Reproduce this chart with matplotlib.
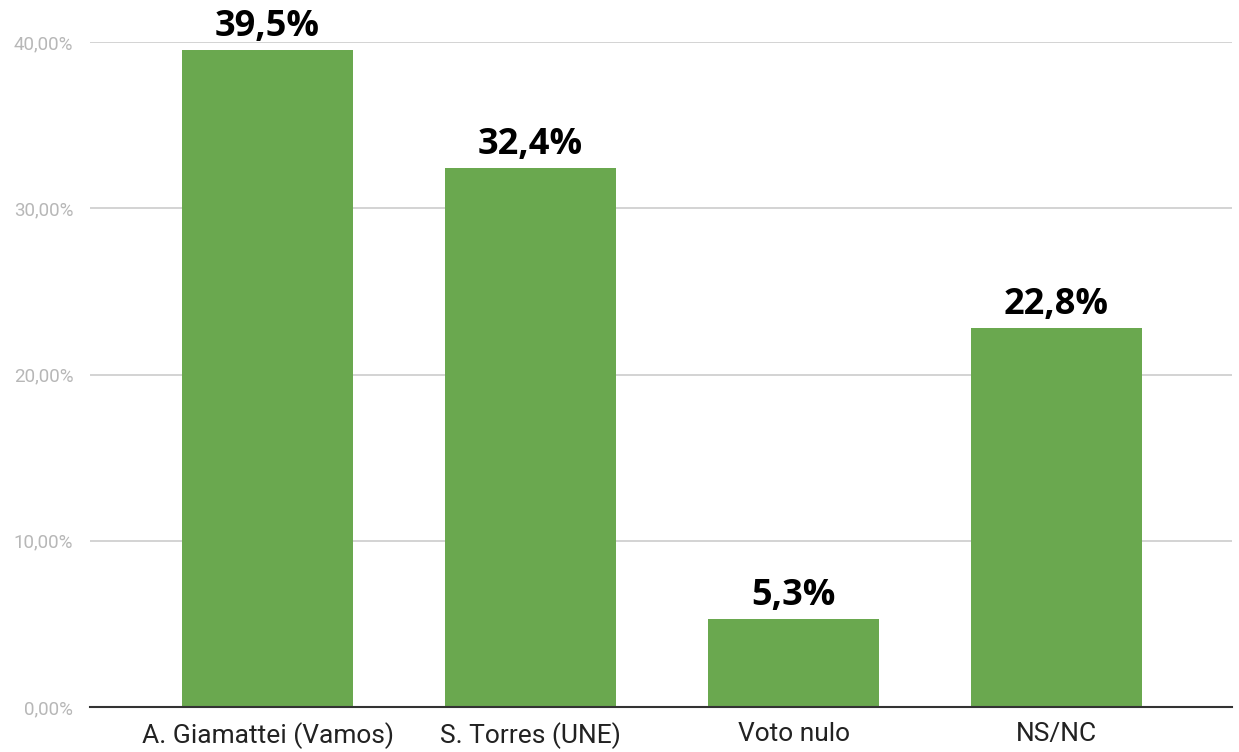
import numpy as np
import matplotlib.pyplot as plt
from matplotlib.ticker import FuncFormatter

categories = ['A. Giamattei (Vamos)', 'S. Torres (UNE)', 'Voto nulo', 'NS/NC']
values = [39.5, 32.4, 5.3, 22.8]
value_labels = ['39,5%', '32,4%', '5,3%', '22,8%']
yticks = [0, 10, 20, 30, 40]

fig = plt.figure(figsize=(12.39, 7.52), dpi=100)
ax = fig.add_axes([90/1239, 45/752, 1142/1239, 665/752])

x = np.arange(len(categories))
ax.bar(x, values, width=0.65, color='#6aa84f', zorder=3)

for xi, v, lab in zip(x, values, value_labels):
    ax.text(xi, v + 0.3, lab, ha='center', va='bottom', fontsize=26,
            fontweight='bold', family='Open Sans', color='black',
            clip_on=False, zorder=4)

ax.set_xlim(-0.675, 3.667)
ax.set_ylim(0, 40)
ax.set_yticks(yticks)
ax.yaxis.set_major_formatter(FuncFormatter(lambda v, p: f'{v:.2f}'.replace('.', ',') + '%'))
ax.set_xticks(x)
ax.set_xticklabels(categories, family='Roboto', fontsize=19, color='#222222')
for t in ax.get_yticklabels():
    t.set_family('Roboto')
    t.set_fontsize(13.5)
    t.set_color('#b7b7b7')
ax.tick_params(axis='y', length=0, pad=12)
ax.tick_params(axis='x', length=0, pad=11)

ax.grid(axis='y', color='#cccccc', linewidth=1.2, zorder=0)
for s in ['top', 'right', 'left']:
    ax.spines[s].set_visible(False)
ax.spines['bottom'].set_color('#333333')
ax.spines['bottom'].set_linewidth(1.5)
ax.spines['bottom'].set_zorder(5)

fig.savefig('out.png', dpi=100)
